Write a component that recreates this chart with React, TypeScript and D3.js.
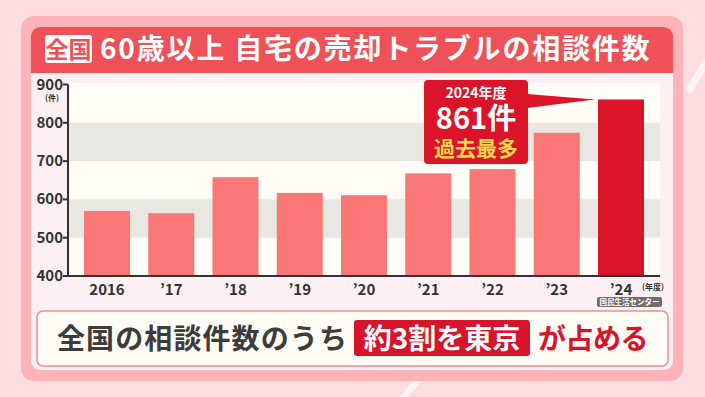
import * as d3 from 'd3'

const years = ['2016', '’17', '’18', '’19', '’20', '’21', '’22', '’23', '’24']
const counts = [570, 564, 658, 617, 611, 668, 679, 774, 861]
const yTicks = [400, 500, 600, 700, 800, 900]
const bandRanges = [
  [500, 600],
  [700, 800],
]

const FONT = '"Noto Sans CJK JP", "Noto Sans", sans-serif'

export default function App() {
  const width = 705
  const height = 397
  const plot = {left: 68, right: 660, top: 83, bottom: 276}

  const x = d3.scaleBand<string>().domain(years).range([84, 644]).paddingInner(0.284).paddingOuter(0)
  const y = d3.scaleLinear().domain([400, 900]).range([plot.bottom, 84.5])

  const last = years[years.length - 1]
  const lastVal = counts[counts.length - 1]
  const tipX = (x(last) || 0) - 3
  const tipY = y(lastVal)

  return (
    <svg width={width} height={height} style={{position: 'absolute', left: 0, top: 0}} fontFamily={FONT}>
      {/* background */}
      <rect width={width} height={height} fill="#fddde0" />
      <line x1={688} y1={92} x2={712} y2={52} stroke="#fff2f3" strokeWidth={7} />
      <line x1={400} y1={402} x2={428} y2={368} stroke="#fff2f3" strokeWidth={7} />

      {/* outer + inner panels */}
      <rect x={21} y={16} width={662} height={365} rx={13} fill="#fdb3b7" />
      <rect x={31} y={27} width={642} height={343} rx={9} fill="#fdf0f2" />
      <path d="M31,73 V36 a9,9 0 0 1 9,-9 H664 a9,9 0 0 1 9,9 V73 Z" fill="#ef5158" />

      {/* title */}
      <rect x={45} y={35} width={47} height={28} rx={3} fill="#ffffff" />
      <text x={68.5} y={57.5} textAnchor="middle" fontSize={23} fontWeight={700} fill="#ef5158">
        全国
      </text>
      <text x={100} y={59} fontSize={28} fontWeight={700} fill="#ffffff" letterSpacing={1.8}>
        60歳以上 自宅の売却トラブルの相談件数
      </text>

      {/* plot background */}
      <rect x={plot.left} y={plot.top} width={plot.right - plot.left} height={plot.bottom - plot.top} fill="#fffdf6" />
      {bandRanges.map(([a, b]) => (
        <rect key={a} x={plot.left} y={y(b)} width={plot.right - plot.left} height={y(a) - y(b)} fill="#e8e7e1" />
      ))}

      {/* bars */}
      {years.map((yr, i) => (
        <rect
          key={yr}
          x={x(yr)}
          y={y(counts[i])}
          width={x.bandwidth()}
          height={plot.bottom - y(counts[i])}
          fill={i === years.length - 1 ? '#dc1429' : '#f97777'}
        />
      ))}

      {/* axes */}
      <line x1={plot.left} x2={plot.left} y1={y(900)} y2={plot.bottom} stroke="#333" strokeWidth={2} />
      <line x1={plot.left - 1} x2={plot.right} y1={plot.bottom} y2={plot.bottom} stroke="#333" strokeWidth={2} />
      {yTicks.map(t => (
        <g key={t}>
          <line x1={plot.left - 5} x2={plot.left} y1={y(t)} y2={y(t)} stroke="#333" strokeWidth={2} />
          <text x={63} y={y(t) + 5} textAnchor="end" fontSize={15} fontWeight={700} fill="#333">
            {t}
          </text>
        </g>
      ))}
      <text x={52} y={101} textAnchor="middle" fontSize={8} fontWeight={700} fill="#333">
        (件)
      </text>
      {years.map(yr => (
        <text
          key={yr}
          x={(x(yr) || 0) + x.bandwidth() / 2}
          y={295}
          textAnchor="middle"
          fontSize={15}
          fontWeight={700}
          fill="#333"
        >
          {yr}
        </text>
      ))}
      <text x={653} y={290} textAnchor="middle" fontSize={8} fontWeight={700} fill="#333">
        (年度)
      </text>
      <rect x={597} y={297} width={65} height={10} rx={2} fill="#6e6e6e" />
      <text x={629.5} y={305} textAnchor="middle" fontSize={7.5} fontWeight={700} fill="#ffffff">
        国民生活センター
      </text>

      {/* callout */}
      <path d={`M527,94 L${tipX},${tipY} L527,108 Z`} fill="#dc1429" />
      <rect x={424} y={80} width={104} height={84} rx={4} fill="#dc1429" />
      <text x={476} y={97.5} textAnchor="middle" fontSize={14} fontWeight={700} fill="#ffffff">
        2024年度
      </text>
      <text x={476} y={129} textAnchor="middle" fontSize={29} fontWeight={700} fill="#ffffff">
        {lastVal}件
      </text>
      <text x={476} y={156} textAnchor="middle" fontSize={21} fontWeight={700} fill="#ffd94a">
        過去最多
      </text>

      {/* bottom message */}
      <rect x={37} y={311} width={631} height={55} rx={6} fill="#fffbf5" stroke="#ef8d93" strokeWidth={1.5} />
      <text x={57} y={349} fontSize={28} fontWeight={700} fill="#3c3c3c" letterSpacing={1.1}>
        全国の相談件数のうち
      </text>
      <rect x={354} y={320} width={176} height={36} rx={3} fill="#d7142a" />
      <text x={442} y={349} textAnchor="middle" fontSize={28} fontWeight={700} fill="#ffffff">
        約3割を東京
      </text>
      <text x={538} y={349} fontSize={28} fontWeight={700} fill="#d7142a" letterSpacing={-0.5}>
        が占める
      </text>
    </svg>
  )
}
